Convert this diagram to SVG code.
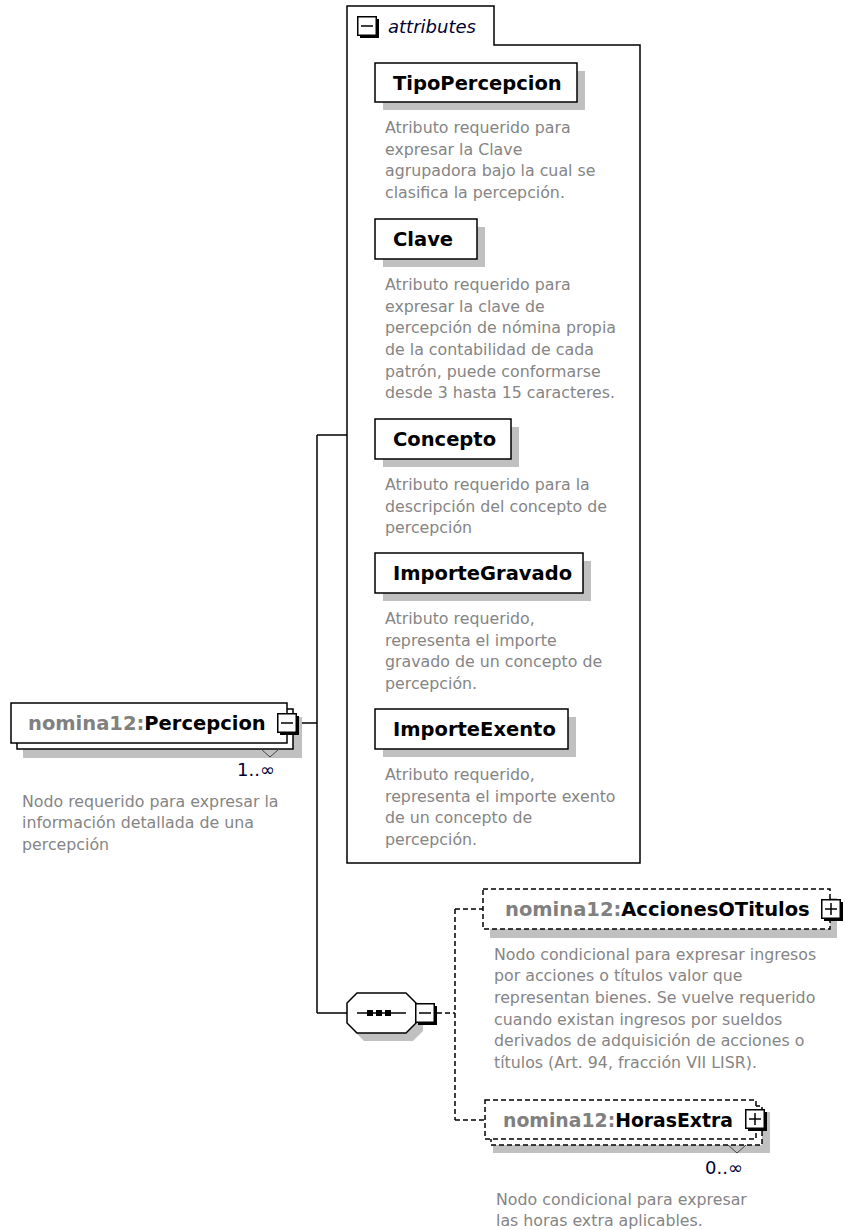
<svg xmlns="http://www.w3.org/2000/svg" width="845" height="1230" viewBox="0 0 845 1230">
<style>
.box{fill:#fff;stroke:#000;stroke-width:1.5}
.dbox{fill:#fff;stroke:#000;stroke-width:1.5;stroke-dasharray:5 3}
.shadow{fill:#c0c0c0}
.lbl{font-family:"DejaVu Sans",sans-serif;font-weight:bold;font-size:19.5px;fill:#000}
.ns{fill:#808080}
.desc{font-family:"DejaVu Sans",sans-serif;font-size:15.8px;fill:#858585}
.occ{font-family:"DejaVu Sans",sans-serif;font-size:18px;fill:#000033}
.line{fill:none;stroke:#000;stroke-width:1.5}
.dline{fill:none;stroke:#000;stroke-width:1.5;stroke-dasharray:5 3}
.tri{fill:none;stroke:#444;stroke-width:1}
</style>
<defs>
<g id="iconBase">
<rect x="3" y="3" width="19" height="19" fill="#000"/>
<rect x="0.75" y="0.75" width="18.5" height="18.5" fill="#fff" stroke="#000" stroke-width="1.5"/>
<line x1="4" y1="10" x2="16" y2="10" stroke="#000" stroke-width="1.5"/>
</g>
<g id="minus"><use href="#iconBase"/></g>
<g id="plus"><use href="#iconBase"/><line x1="10" y1="4" x2="10" y2="16" stroke="#000" stroke-width="1.5"/></g>
</defs>

<g id="connectors">
<path class="line" d="M299,723 H317 M317,435 V1013 M317,435 H347 M317,1013 H347"/>
<path class="dline" d="M437,1013 H455 M455,909 V1120 M455,909 H483 M455,1120 H485"/>
</g>

<g id="attributes">
<path class="box" d="M347,863 V6 H494 V45 H640 V863 Z"/>
<use href="#minus" x="357" y="16"/>
<text x="388" y="33" font-family="DejaVu Sans, sans-serif" font-style="italic" font-size="18" fill="#000033">attributes</text>
</g>

<g id="TipoPercepcion">
<rect class="shadow" x="383" y="71" width="202" height="39"/>
<rect class="box" x="375" y="63" width="202" height="39"/>
<text class="lbl" x="393" y="90">TipoPercepcion</text>
<text class="desc"><tspan x="385" y="133">Atributo requerido para</tspan><tspan x="385" y="155">expresar la Clave</tspan><tspan x="385" y="176">agrupadora bajo la cual se</tspan><tspan x="385" y="198">clasifica la percepción.</tspan></text>
</g>

<g id="Clave">
<rect class="shadow" x="383" y="227" width="102" height="40"/>
<rect class="box" x="375" y="219" width="102" height="40"/>
<text class="lbl" x="393" y="246">Clave</text>
<text class="desc"><tspan x="385" y="290">Atributo requerido para</tspan><tspan x="385" y="312">expresar la clave de</tspan><tspan x="385" y="333">percepción de nómina propia</tspan><tspan x="385" y="355">de la contabilidad de cada</tspan><tspan x="385" y="377">patrón, puede conformarse</tspan><tspan x="385" y="398">desde 3 hasta 15 caracteres.</tspan></text>
</g>

<g id="Concepto">
<rect class="shadow" x="383" y="427" width="136" height="40"/>
<rect class="box" x="375" y="419" width="136" height="40"/>
<text class="lbl" x="393" y="446">Concepto</text>
<text class="desc"><tspan x="385" y="490">Atributo requerido para la</tspan><tspan x="385" y="512">descripción del concepto de</tspan><tspan x="385" y="533">percepción</tspan></text>
</g>

<g id="ImporteGravado">
<rect class="shadow" x="383" y="561" width="208" height="40"/>
<rect class="box" x="375" y="553" width="208" height="40"/>
<text class="lbl" x="393" y="580">ImporteGravado</text>
<text class="desc"><tspan x="385" y="624">Atributo requerido,</tspan><tspan x="385" y="646">representa el importe</tspan><tspan x="385" y="667">gravado de un concepto de</tspan><tspan x="385" y="689">percepción.</tspan></text>
</g>

<g id="ImporteExento">
<rect class="shadow" x="383" y="717" width="193" height="40"/>
<rect class="box" x="375" y="709" width="193" height="40"/>
<text class="lbl" x="393" y="736">ImporteExento</text>
<text class="desc"><tspan x="385" y="780">Atributo requerido,</tspan><tspan x="385" y="802">representa el importe exento</tspan><tspan x="385" y="823">de un concepto de</tspan><tspan x="385" y="845">percepción.</tspan></text>
</g>

<g id="Percepcion">
<rect class="shadow" x="23" y="717" width="279" height="41"/>
<rect class="box" x="17" y="709" width="276" height="40"/>
<rect class="box" x="11" y="703" width="276" height="40"/>
<text class="lbl" x="28" y="730"><tspan class="ns">nomina12:</tspan>Percepcion</text>
<use href="#minus" x="277" y="713"/>
<polyline class="tri" points="261,749 270,757 279,749"/>
<text class="occ" x="237" y="776">1..∞</text>
<text class="desc"><tspan x="22" y="807">Nodo requerido para expresar la</tspan><tspan x="22" y="828">información detallada de una</tspan><tspan x="22" y="850">percepción</tspan></text>
</g>

<g id="sequence">
<polygon class="shadow" points="364,1001 413,1001 423,1011 423,1031 413,1041 364,1041 354,1031 354,1011"/>
<polygon class="box" points="357,993 406,993 416,1003 416,1023 406,1033 357,1033 347,1023 347,1003"/>
<line class="line" x1="357" y1="1013" x2="406" y2="1013"/>
<rect x="367" y="1010" width="6" height="6" fill="#000"/>
<rect x="376" y="1010" width="6" height="6" fill="#000"/>
<rect x="385" y="1010" width="6" height="6" fill="#000"/>
<use href="#minus" x="415" y="1003"/>
</g>

<g id="AccionesOTitulos">
<rect class="shadow" x="490" y="898" width="347" height="40"/>
<rect class="dbox" x="483" y="889" width="347" height="40"/>
<text class="lbl" x="505" y="916"><tspan class="ns">nomina12:</tspan>AccionesOTitulos</text>
<use href="#plus" x="821" y="899"/>
<text class="desc"><tspan x="494" y="960">Nodo condicional para expresar ingresos</tspan><tspan x="494" y="981">por acciones o títulos valor que</tspan><tspan x="494" y="1003">representan bienes. Se vuelve requerido</tspan><tspan x="494" y="1025">cuando existan ingresos por sueldos</tspan><tspan x="494" y="1046">derivados de adquisición de acciones o</tspan><tspan x="494" y="1068">títulos (Art. 94, fracción VII LISR).</tspan></text>
</g>

<g id="HorasExtra">
<rect class="shadow" x="493" y="1112" width="277" height="41"/>
<rect class="dbox" x="491" y="1106" width="271" height="39"/>
<rect class="dbox" x="485" y="1100" width="271" height="39"/>
<text class="lbl" x="503" y="1127" textLength="230" lengthAdjust="spacingAndGlyphs"><tspan class="ns">nomina12:</tspan>HorasExtra</text>
<use href="#plus" x="745" y="1109"/>
<polyline class="tri" points="728,1145 737,1153 746,1145"/>
<text class="occ" x="705" y="1174">0..∞</text>
<text class="desc"><tspan x="496" y="1205">Nodo condicional para expresar</tspan><tspan x="496" y="1226">las horas extra aplicables.</tspan></text>
</g>
</svg>
